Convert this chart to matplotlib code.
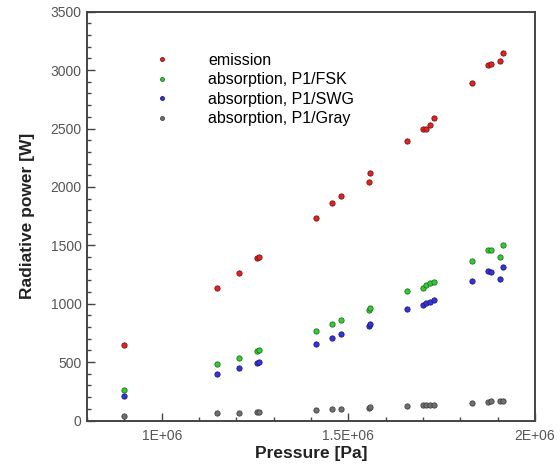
import numpy as np
import matplotlib.pyplot as plt
from matplotlib.ticker import MultipleLocator, FuncFormatter

plt.rcParams['font.family'] = ['Liberation Sans', 'DejaVu Sans']

# pressure [Pa] of each case
pressure = [0.900e6, 1.147e6, 1.207e6, 1.255e6, 1.261e6, 1.412e6, 1.457e6, 1.480e6,
            1.556e6, 1.557e6, 1.658e6, 1.699e6, 1.708e6, 1.718e6, 1.730e6,
            1.832e6, 1.875e6, 1.882e6, 1.905e6, 1.914e6]

emission = [649, 1137, 1266, 1394, 1400, 1734, 1860, 1923, 2040, 2123,
            2394, 2492, 2497, 2526, 2586, 2891, 3043, 3054, 3075, 3146]
abs_fsk = [260, 483, 537, 598, 602, 769, 825, 863, 950, 962,
           1106, 1137, 1163, 1177, 1189, 1369, 1463, 1460, 1403, 1506]
abs_swg = [211, 394, 449, 495, 499, 657, 703, 737, 810, 824,
           954, 986, 1003, 1017, 1034, 1197, 1283, 1275, 1215, 1318]
abs_gray = [40, 60, 66, 72, 75, 91, 97, 100, 110, 112,
            126, 130, 131, 131, 132, 152, 161, 163, 164, 166]

labels = ['emission', 'absorption, P1/FSK', 'absorption, P1/SWG', 'absorption, P1/Gray']
colors = ['#e02424', '#33cc33', '#3333e0', '#707070']
edges = ['#7a1010', '#1d6e1d', '#1a1a70', '#404040']

fig = plt.figure(figsize=(5.6, 4.69), dpi=100)
ax = fig.add_axes([0.1554, 0.1034, 0.8, 0.8716])

for vals, lab, c, e in zip([emission, abs_fsk, abs_swg, abs_gray], labels, colors, edges):
    ax.plot(pressure, vals, 'o', ms=3.8, mfc=c, mec=e, mew=0.6, label=lab)

ax.set_xlim(0.8e6, 2.0e6)
ax.set_ylim(0, 3500)
ax.xaxis.set_major_locator(MultipleLocator(0.5e6))
ax.xaxis.set_minor_locator(MultipleLocator(0.1e6))
ax.yaxis.set_major_locator(MultipleLocator(500))
ax.yaxis.set_minor_locator(MultipleLocator(100))

def sci(v, pos):
    m = v / 1e6
    return ('%g' % m) + 'E+06'

ax.xaxis.set_major_formatter(FuncFormatter(sci))
ax.tick_params(which='both', direction='in', top=False, right=False,
               color='#444444', labelsize=10, labelcolor='#555555', width=1)
ax.tick_params(which='major', length=6)
ax.tick_params(axis='x', which='major', pad=6)
ax.tick_params(axis='y', which='major', pad=4)
ax.tick_params(which='minor', length=3)
for s in ax.spines.values():
    s.set_color('#444444')
    s.set_linewidth(1.4)

ax.set_xlabel('Pressure [Pa]', fontsize=12.5, fontweight='bold', color='#222222', labelpad=2)
ax.set_ylabel('Radiative power [W]', fontsize=12.5, fontweight='bold', color='#222222', labelpad=11)

ax.legend(loc='upper left', bbox_to_anchor=(0.2777, 0.8870), bbox_transform=fig.transFigure,
          frameon=False, fontsize=11.5, markerscale=0.75, handlelength=0.8,
          handletextpad=2.5, labelspacing=0.28, borderpad=0, borderaxespad=0)

fig.savefig('out.png', dpi=100)
